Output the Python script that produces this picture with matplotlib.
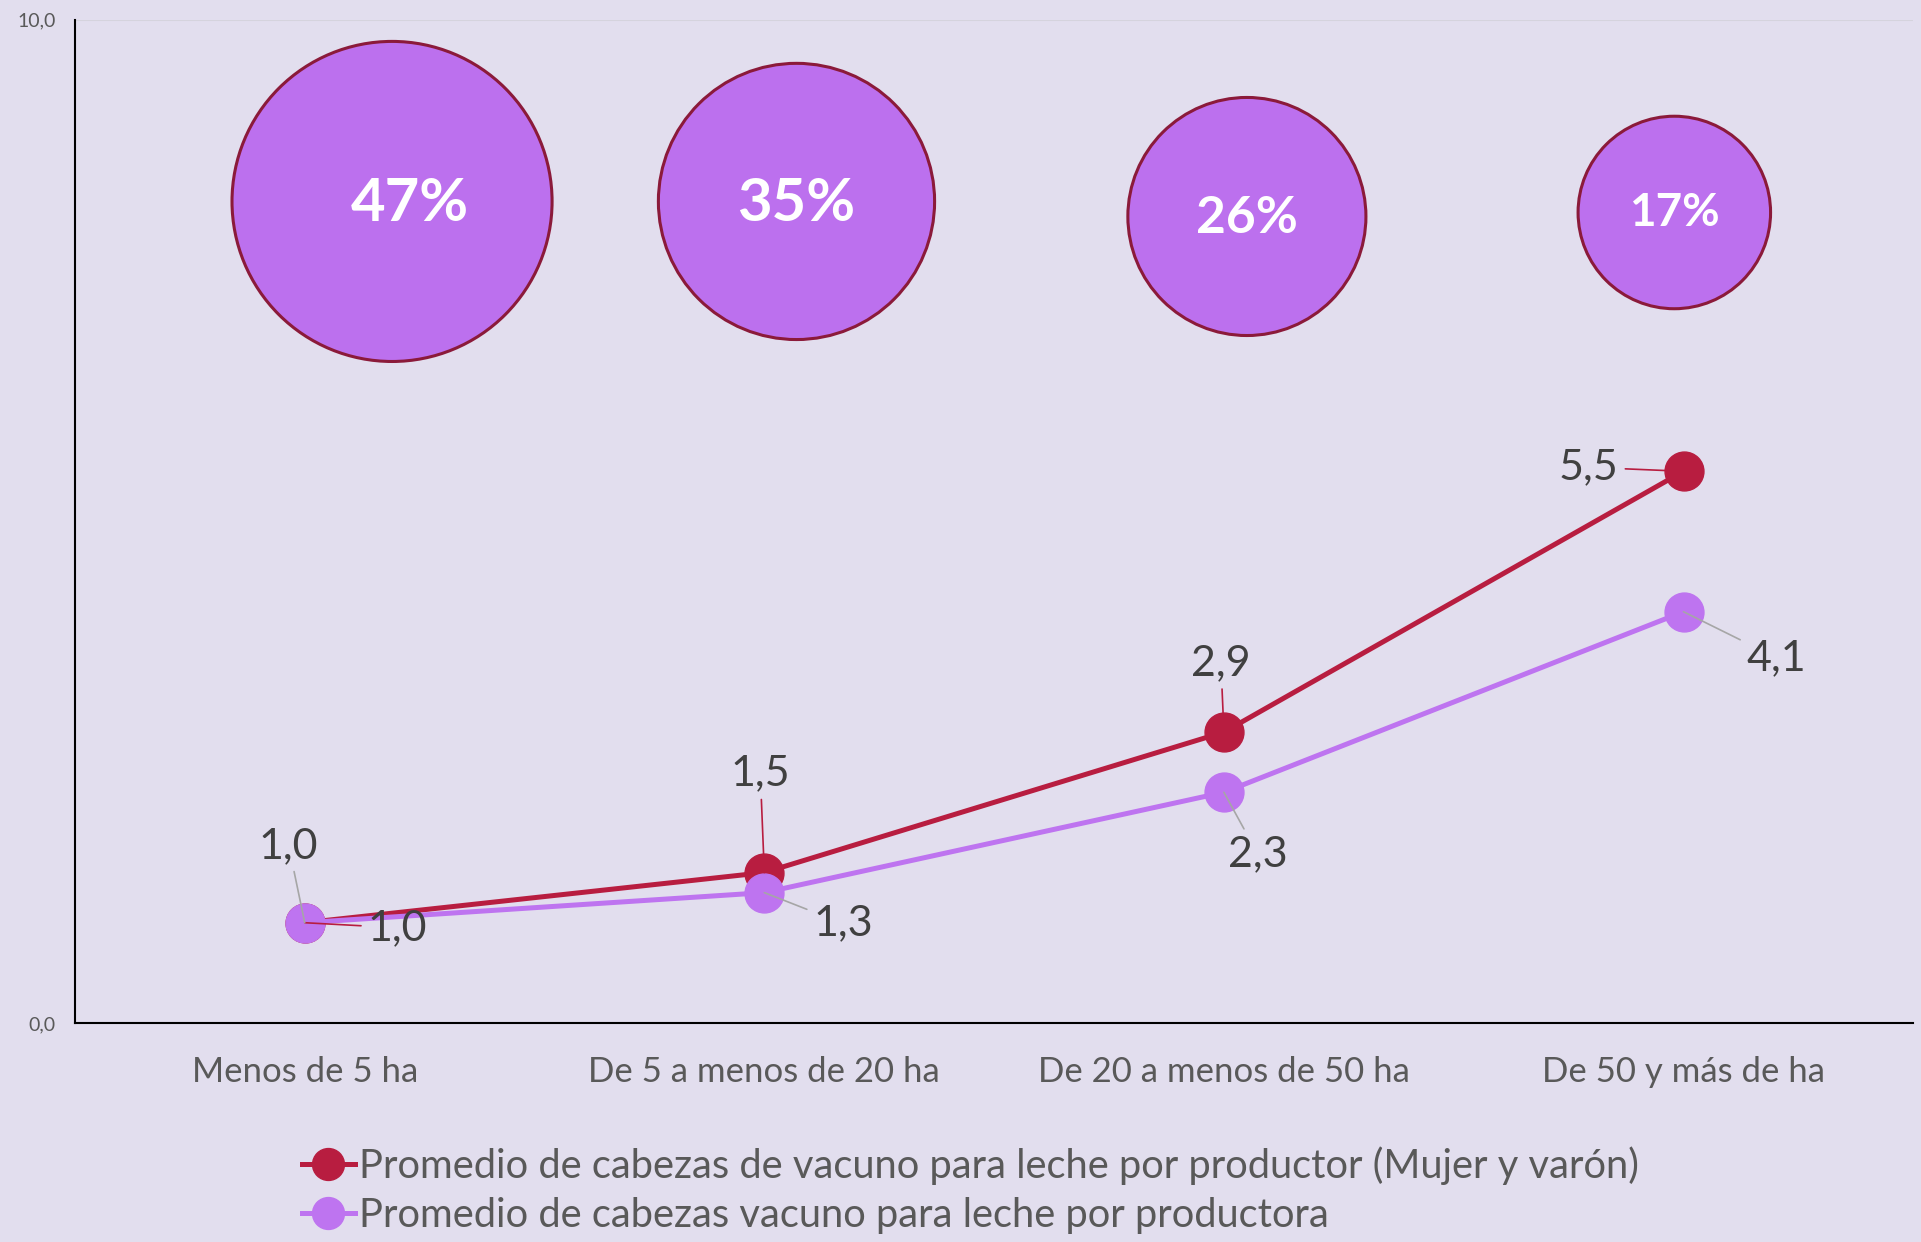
import matplotlib
matplotlib.use("Agg")
import matplotlib.pyplot as plt

# categories and series
categories = ["Menos de 5 ha", "De 5 a menos de 20 ha",
              "De 20 a menos de 50 ha", "De 50 y más de ha"]
total_avg = [1.0, 1.5, 2.9, 5.5]
women_avg = [1.0, 1.3, 2.3, 4.1]
total_name = "Promedio de cabezas de vacuno para leche por productor (Mujer y varón)"
women_name = "Promedio de cabezas vacuno para leche por productora"

# bubble series (share of women producers)
bubble_pct = [47, 35, 26, 17]
bubble_x = [0.19, 1.07, 2.05, 2.98]
bubble_y = [8.19, 8.19, 8.04, 8.08]

y_ticks = [0, 10]
y_tick_labels = ["0,0", "10,0"]

bg = "#E2DEEE"
red = "#B81D40"
purple = "#BE74F0"
bubble_fill = "#BC70EE"
bubble_edge = "#8B1A3A"
label_col = "#404040"
tick_col = "#595959"

plt.rcParams["font.family"] = ["Lato", "DejaVu Sans"]

fig = plt.figure(figsize=(19.21, 12.42), dpi=100, facecolor=bg)
ax = fig.add_axes([0.039, 0.1763, 0.957, 0.8077])
ax.set_facecolor(bg)

x = list(range(len(categories)))

# bubbles with percentages
ax.scatter(bubble_x, bubble_y, s=[p * 1130 for p in bubble_pct],
           color=bubble_fill, edgecolor=bubble_edge, linewidth=2.2, zorder=1)
pct_sizes = [43, 43, 37, 33]
pct_shift = [(18, -3), (0, -3), (0, -2), (0, -1)]
for bx, by, p, fs, sh in zip(bubble_x, bubble_y, bubble_pct, pct_sizes, pct_shift):
    ax.annotate(f"{p}%", (bx, by), xytext=sh, textcoords="offset pixels",
                ha="center", va="center", color="white",
                fontsize=fs, fontweight="bold", zorder=2)

# lines
ax.plot(x, total_avg, color=red, lw=3.6, marker="o", markersize=28,
        label=total_name, zorder=3)
ax.plot(x, women_avg, color=purple, lw=3.6, marker="o", markersize=28,
        label=women_name, zorder=4)

# data labels with leader lines (offsets in pixels)
red_offsets = [(93, -5), (-4, 99), (-3, 69), (-95, 4)]
purple_offsets = [(-16, 77), (79, -31), (34, -62), (93, -46)]
for xi, v, off in zip(x, total_avg, red_offsets):
    ax.annotate(f"{v:.1f}".replace(".", ","), (xi, v), xytext=off,
                textcoords="offset pixels", ha="center", va="center",
                fontsize=31, color=label_col, zorder=6,
                arrowprops=dict(arrowstyle="-", color=red, lw=1.2,
                                shrinkA=3, shrinkB=0))
for xi, v, off in zip(x, women_avg, purple_offsets):
    ax.annotate(f"{v:.1f}".replace(".", ","), (xi, v), xytext=off,
                textcoords="offset pixels", ha="center", va="center",
                fontsize=31, color=label_col, zorder=6,
                arrowprops=dict(arrowstyle="-", color="#A6A6A6", lw=1.2,
                                shrinkA=3, shrinkB=0))

ax.set_xlim(-0.5, 3.5)
ax.set_ylim(0, 10)
ax.set_xticks(x)
ax.set_xticklabels(categories, fontsize=25, color=tick_col)
ax.set_yticks(y_ticks)
ax.set_yticklabels(y_tick_labels, fontsize=14, color=tick_col)
ax.tick_params(axis="x", length=0, pad=24)
ax.tick_params(axis="y", length=0, pad=14)
ax.yaxis.grid(True, color="#D5D3DD", lw=1.5)
ax.set_axisbelow(True)

for side in ["top", "right"]:
    ax.spines[side].set_visible(False)
for side in ["left", "bottom"]:
    ax.spines[side].set_color("black")
    ax.spines[side].set_linewidth(1.5)

leg = fig.legend(loc="upper left", bbox_to_anchor=(0.157, 0.077),
                 frameon=False, fontsize=28.7, handlelength=1.33,
                 handletextpad=0.1, labelspacing=0.31, borderpad=0,
                 borderaxespad=0, markerscale=0.82)
for t in leg.get_texts():
    t.set_color(tick_col)

fig.savefig("out.png", dpi=100, facecolor=bg)
